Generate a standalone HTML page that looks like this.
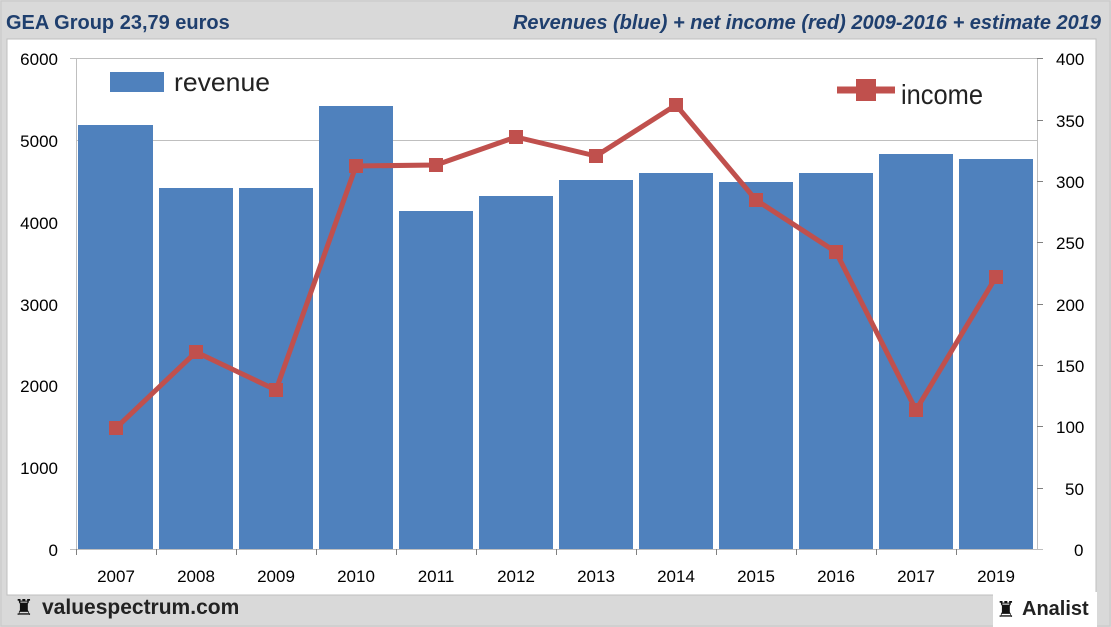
<!DOCTYPE html>
<html><head><meta charset="utf-8"><style>
body{margin:0;background:#d9d9d9;width:1111px;height:627px;overflow:hidden;font-family:"Liberation Sans",sans-serif}
</style></head><body>
<svg width="1111" height="627" xmlns="http://www.w3.org/2000/svg" style="position:absolute;left:0;top:0">
<rect x="0" y="0" width="1111" height="627" fill="#d9d9d9"/>
<rect x="1" y="1" width="1109" height="625" fill="none" stroke="#c8c8c8"/>
<rect x="7" y="39" width="1089" height="556" fill="#fff" stroke="#bfbfbf"/>
<text x="6" y="29" font-size="20" font-weight="bold" fill="#1f3f6e">GEA Group 23,79 euros</text>
<text x="1101" y="29" font-size="20" font-weight="bold" font-style="italic" fill="#1f3f6e" text-anchor="end">Revenues (blue) + net income (red) 2009-2016 + estimate 2019</text>
<g stroke="#bfbfbf" stroke-width="1">
<line x1="70" y1="58.5" x2="1037" y2="58.5"/>
<line x1="76" y1="140.5" x2="1037" y2="140.5"/>
<line x1="70" y1="549.5" x2="1043" y2="549.5"/>
<line x1="76.5" y1="58" x2="76.5" y2="549"/>
<line x1="1037.5" y1="58" x2="1037.5" y2="549"/>
</g>
<g fill="#4f81bd">
<rect x="78" y="125" width="75" height="424"/>
<rect x="159" y="188" width="74" height="361"/>
<rect x="239" y="188" width="74" height="361"/>
<rect x="319" y="106" width="74" height="443"/>
<rect x="399" y="211" width="74" height="338"/>
<rect x="479" y="196" width="74" height="353"/>
<rect x="559" y="180" width="74" height="369"/>
<rect x="639" y="173" width="74" height="376"/>
<rect x="719" y="182" width="74" height="367"/>
<rect x="799" y="173" width="74" height="376"/>
<rect x="879" y="154" width="74" height="395"/>
<rect x="959" y="159" width="74" height="390"/>
</g>
<g stroke="#808080">
<line x1="76.5" y1="549" x2="76.5" y2="555"/><line x1="156.5" y1="549" x2="156.5" y2="555"/><line x1="236.5" y1="549" x2="236.5" y2="555"/><line x1="316.5" y1="549" x2="316.5" y2="555"/><line x1="396.5" y1="549" x2="396.5" y2="555"/><line x1="476.5" y1="549" x2="476.5" y2="555"/><line x1="556.5" y1="549" x2="556.5" y2="555"/><line x1="636.5" y1="549" x2="636.5" y2="555"/><line x1="716.5" y1="549" x2="716.5" y2="555"/><line x1="796.5" y1="549" x2="796.5" y2="555"/><line x1="876.5" y1="549" x2="876.5" y2="555"/><line x1="956.5" y1="549" x2="956.5" y2="555"/>
<line x1="1037" y1="58.5" x2="1043" y2="58.5"/><line x1="1037" y1="120.5" x2="1043" y2="120.5"/><line x1="1037" y1="181.5" x2="1043" y2="181.5"/><line x1="1037" y1="242.5" x2="1043" y2="242.5"/><line x1="1037" y1="304.5" x2="1043" y2="304.5"/><line x1="1037" y1="365.5" x2="1043" y2="365.5"/><line x1="1037" y1="426.5" x2="1043" y2="426.5"/><line x1="1037" y1="488.5" x2="1043" y2="488.5"/>
</g>
<rect x="100" y="62" width="180" height="38" fill="#fff"/>
<rect x="110" y="72" width="54" height="20" fill="#4f81bd"/>
<text x="174" y="91" font-size="26" fill="#222" textLength="96" lengthAdjust="spacingAndGlyphs">revenue</text>
<rect x="830" y="62" width="175" height="52" fill="#fff"/>
<line x1="837" y1="90" x2="895" y2="90" stroke="#c0504d" stroke-width="7"/>
<rect x="856" y="79" width="20" height="22" fill="#c0504d"/>
<text x="901" y="104" font-size="28" fill="#222" textLength="82" lengthAdjust="spacingAndGlyphs">income</text>
<polyline fill="none" stroke="#c0504d" stroke-width="5" stroke-linejoin="round" points="116,428 196,352 276,390 356,166 436,165 516,137 596,156 676,105 756,200 836,252 916,410 996,277"/>
<g fill="#c0504d">
<rect x="109" y="421" width="14" height="14"/><rect x="189" y="345" width="14" height="14"/><rect x="269" y="383" width="14" height="14"/><rect x="349" y="159" width="14" height="14"/><rect x="429" y="158" width="14" height="14"/><rect x="509" y="130" width="14" height="14"/><rect x="589" y="149" width="14" height="14"/><rect x="669" y="98" width="14" height="14"/><rect x="749" y="193" width="14" height="14"/><rect x="829" y="245" width="14" height="14"/><rect x="909" y="403" width="14" height="14"/><rect x="989" y="270" width="14" height="14"/>
</g>
<g font-size="17" fill="#000" text-anchor="end">
<text x="58" y="65">6000</text><text x="58" y="147">5000</text><text x="58" y="229">4000</text><text x="58" y="311">3000</text><text x="58" y="392">2000</text><text x="58" y="474">1000</text><text x="58" y="556">0</text>
</g>
<g font-size="17" fill="#000">
<text x="1056" y="65">400</text><text x="1056" y="127">350</text><text x="1056" y="188">300</text><text x="1056" y="249">250</text><text x="1056" y="311">200</text><text x="1056" y="372">150</text><text x="1056" y="433">100</text><text x="1065" y="495">50</text><text x="1074" y="556">0</text>
</g>
<g font-size="17" fill="#000" text-anchor="middle">
<text x="116" y="582">2007</text><text x="196" y="582">2008</text><text x="276" y="582">2009</text><text x="356" y="582">2010</text><text x="436" y="582">2011</text><text x="516" y="582">2012</text><text x="596" y="582">2013</text><text x="676" y="582">2014</text><text x="756" y="582">2015</text><text x="836" y="582">2016</text><text x="916" y="582">2017</text><text x="996" y="582">2019</text>
</g>
<text x="14" y="615" font-size="22" fill="#111">♜</text>
<text x="42" y="614" font-size="21" font-weight="bold" fill="#222">valuespectrum.com</text>
<rect x="993" y="592" width="104" height="35" fill="#fff"/>
<text x="996" y="617" font-size="22" fill="#111">♜</text>
<text x="1022" y="615" font-size="20" font-weight="bold" fill="#222">Analist</text>
</svg>
</body></html>
